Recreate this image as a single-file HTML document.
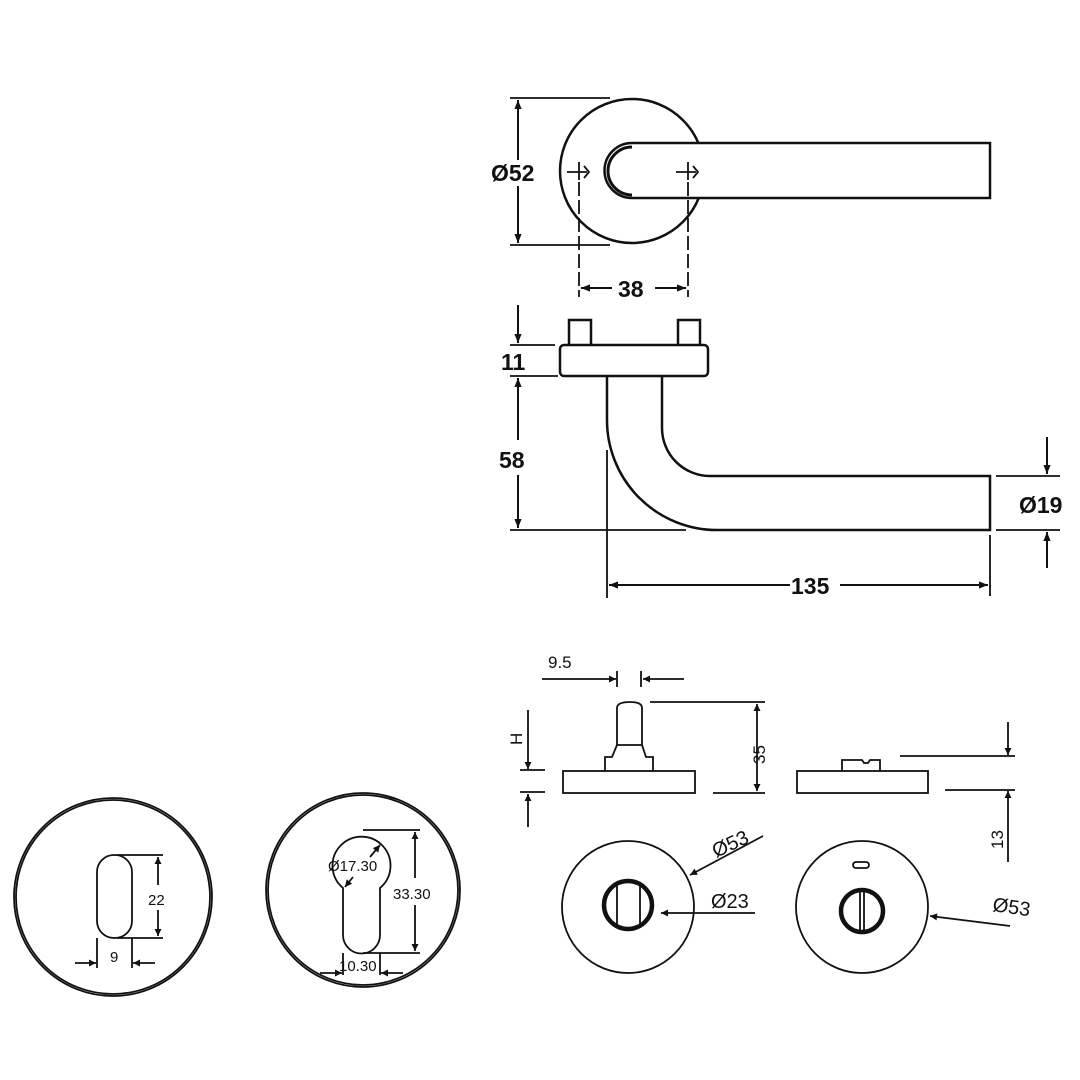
<!DOCTYPE html>
<html><head><meta charset="utf-8"><style>
html,body{margin:0;padding:0;background:#fff}
svg{display:block}
text{font-family:"Liberation Sans",sans-serif;fill:#111}
</style></head><body>
<svg width="1080" height="1080" viewBox="0 0 1080 1080" xmlns="http://www.w3.org/2000/svg">
<defs>
<marker id="a" viewBox="0 0 10 10" refX="10" refY="5" markerWidth="10" markerHeight="7" orient="auto-start-reverse" markerUnits="userSpaceOnUse"><path d="M0,0 L10,5 L0,10 z" fill="#111"/></marker>
<marker id="b" viewBox="0 0 10 10" refX="10" refY="5" markerWidth="16" markerHeight="9" orient="auto-start-reverse" markerUnits="userSpaceOnUse"><path d="M0,1 L10,5 L0,9 z" fill="#111"/></marker>
</defs>
<g fill="none" stroke="#111" stroke-width="2.5">
<!-- top view -->
<circle cx="632" cy="171" r="72"/>
<path d="M632,143 L990,143 L990,198 L632,198 A27.5,27.5 0 0 1 632,143 Z" fill="#fff"/>
<path d="M632,147 A24,24 0 0 0 632,195" stroke-width="3"/>
<line x1="510" y1="98" x2="610" y2="98" stroke-width="1.8"/>
<line x1="510" y1="245" x2="610" y2="245" stroke-width="1.8"/>
<line x1="518" y1="100" x2="518" y2="160" marker-start="url(#b)" stroke-width="2"/>
<line x1="518" y1="186" x2="518" y2="243" marker-end="url(#b)" stroke-width="2"/>
<line x1="579" y1="182" x2="579" y2="297" stroke-dasharray="14,4" stroke-width="1.8"/>
<line x1="688" y1="182" x2="688" y2="297" stroke-dasharray="14,4" stroke-width="1.8"/>
<line x1="581" y1="288" x2="612" y2="288" marker-start="url(#b)" stroke-width="2"/>
<line x1="655" y1="288" x2="686" y2="288" marker-end="url(#b)" stroke-width="2"/>
<!-- screw marks -->
<g stroke-width="1.8"><path d="M567,172 h20 M579,162 v18 M584,166 l5,6 l-5,6"/><path d="M676,172 h20 M688,162 v18 M693,166 l5,6 l-5,6"/></g>
<!-- side view -->
<rect x="569" y="320" width="22" height="26" fill="#fff"/>
<rect x="678" y="320" width="22" height="26" fill="#fff"/>
<rect x="560" y="345" width="148" height="31" rx="4" fill="#fff"/>
<path d="M607,376 L607,420 A110,110 0 0 0 717,530 L990,530 L990,476 L710,476 A48,48 0 0 1 662,428 L662,376"/>
<line x1="607" y1="450" x2="607" y2="598" stroke-width="1.8"/>
<line x1="510" y1="530" x2="686" y2="530" stroke-width="1.8"/>
<line x1="510" y1="345" x2="555" y2="345" stroke-width="1.8"/>
<line x1="510" y1="376" x2="558" y2="376" stroke-width="1.8"/>
<line x1="518" y1="305" x2="518" y2="343" marker-end="url(#b)" stroke-width="2"/>
<line x1="518" y1="378" x2="518" y2="440" marker-start="url(#b)" stroke-width="2"/>
<line x1="518" y1="475" x2="518" y2="528" marker-end="url(#b)" stroke-width="2"/>
<line x1="990" y1="535" x2="990" y2="596" stroke-width="1.8"/>
<line x1="609" y1="585" x2="790" y2="585" marker-start="url(#b)" stroke-width="2"/>
<line x1="840" y1="585" x2="988" y2="585" marker-end="url(#b)" stroke-width="2"/>
<line x1="996" y1="476" x2="1060" y2="476" stroke-width="1.8"/>
<line x1="996" y1="530" x2="1060" y2="530" stroke-width="1.8"/>
<line x1="1047" y1="437" x2="1047" y2="474" marker-end="url(#b)" stroke-width="2"/>
<line x1="1047" y1="568" x2="1047" y2="532" marker-end="url(#b)" stroke-width="2"/>
<!-- bottom right: turn side -->
<g stroke-width="1.8">
<path d="M617,745 L617,708 Q617,702 630,702 Q642,702 642,708 L642,745"/>
<path d="M617,745 L612,757 L605,757 L605,771 M642,745 L646,757 L653,757 L653,771 M617,745 L642,745"/>
<rect x="563" y="771" width="132" height="22"/>
<line x1="542" y1="679" x2="616" y2="679" marker-end="url(#a)"/>
<line x1="617" y1="671" x2="617" y2="687"/>
<line x1="641" y1="671" x2="641" y2="687"/>
<line x1="684" y1="679" x2="643" y2="679" marker-end="url(#a)"/>
<line x1="650" y1="702" x2="765" y2="702"/>
<line x1="713" y1="793" x2="765" y2="793"/>
<line x1="757" y1="704" x2="757" y2="791" marker-start="url(#a)" marker-end="url(#a)"/>
<line x1="528" y1="710" x2="528" y2="769" marker-end="url(#a)"/>
<line x1="520" y1="770" x2="545" y2="770"/>
<line x1="520" y1="792" x2="545" y2="792"/>
<line x1="528" y1="827" x2="528" y2="794" marker-end="url(#a)"/>
<rect x="797" y="771" width="131" height="22"/>
<path d="M842,771 L842,760 L862,760 L864,763 L868,763 L870,760 L880,760 L880,771"/>
<line x1="900" y1="756" x2="1015" y2="756"/>
<line x1="945" y1="790" x2="1015" y2="790"/>
<line x1="1008" y1="722" x2="1008" y2="755" marker-end="url(#a)"/>
<line x1="1008" y1="862" x2="1008" y2="791" marker-end="url(#a)"/>
<!-- front views -->
<circle cx="628" cy="907" r="66"/>
<circle cx="628" cy="905" r="24" stroke-width="4.5"/>
<line x1="617" y1="884" x2="617" y2="926"/><line x1="640" y1="883" x2="640" y2="927"/>
<line x1="763" y1="836" x2="690" y2="875" marker-end="url(#a)"/>
<line x1="755" y1="913" x2="661" y2="913" marker-end="url(#a)"/>
<circle cx="862" cy="907" r="66"/>
<rect x="853" y="862" width="16" height="6" rx="3"/>
<circle cx="862" cy="911" r="21" stroke-width="4.5"/>
<line x1="860" y1="891" x2="860" y2="931"/><line x1="864" y1="891" x2="864" y2="931"/>
<line x1="1010" y1="926" x2="930" y2="916" marker-end="url(#a)"/>
<!-- bottom left circles -->
<circle cx="113" cy="897" r="99"/><circle cx="113" cy="897" r="97"/>
<rect x="97" y="855" width="35" height="83" rx="17"/>
<line x1="117" y1="855" x2="163" y2="855"/><line x1="117" y1="938" x2="163" y2="938"/>
<line x1="158" y1="857" x2="158" y2="885" marker-start="url(#a)"/>
<line x1="158" y1="910" x2="158" y2="936" marker-end="url(#a)"/>
<line x1="97" y1="938" x2="97" y2="968"/><line x1="132" y1="938" x2="132" y2="968"/>
<line x1="75" y1="963" x2="96" y2="963" marker-end="url(#a)"/>
<line x1="155" y1="963" x2="133" y2="963" marker-end="url(#a)"/>
<circle cx="363" cy="890" r="97"/><circle cx="363" cy="890" r="95"/>
<path d="M343,888 A29,29 0 1 1 380,888 L380,935 A18.5,18.5 0 0 1 343,935 Z"/>
<line x1="363" y1="830" x2="420" y2="830"/><line x1="363" y1="953" x2="420" y2="953"/>
<line x1="415" y1="832" x2="415" y2="878" marker-start="url(#a)"/>
<line x1="415" y1="905" x2="415" y2="951" marker-end="url(#a)"/>
<line x1="380" y1="845" x2="370" y2="857" marker-start="url(#a)"/>
<line x1="345" y1="887" x2="353" y2="877" marker-start="url(#a)"/>
<line x1="343" y1="953" x2="343" y2="975"/><line x1="380" y1="953" x2="380" y2="975"/>
<line x1="320" y1="973" x2="342" y2="973" marker-end="url(#a)"/>
<line x1="403" y1="973" x2="381" y2="973" marker-end="url(#a)"/>
</g>
</g>
<g font-weight="bold" font-size="23">
<text x="491" y="181">Ø52</text>
<text x="618" y="297">38</text>
<text x="501" y="370">11</text>
<text x="499" y="468">58</text>
<text x="791" y="594">135</text>
<text x="1019" y="513">Ø19</text>
</g>
<g font-size="17">
<text x="548" y="668">9.5</text>
<text x="0" y="0" transform="translate(765,764) rotate(-90)">35</text>
<text x="0" y="0" transform="translate(522,745) rotate(-90)">H</text>
<text x="0" y="0" transform="translate(1003,849) rotate(-90)">13</text>
<text x="0" y="0" font-size="20" transform="translate(716,858) rotate(-25)">Ø53</text>
<text x="711" y="908" font-size="20">Ø23</text>
<text x="0" y="0" font-size="20" transform="translate(992,911) rotate(8)">Ø53</text>
<text x="148" y="905" font-size="15">22</text>
<text x="110" y="962" font-size="15">9</text>
<text x="328" y="871" font-size="15">Ø17.30</text>
<text x="393" y="899" font-size="15" style="paint-order:stroke;stroke:#fff;stroke-width:4px">33.30</text>
<text x="339" y="971" font-size="15">10.30</text>
</g>
</svg>
</body></html>
